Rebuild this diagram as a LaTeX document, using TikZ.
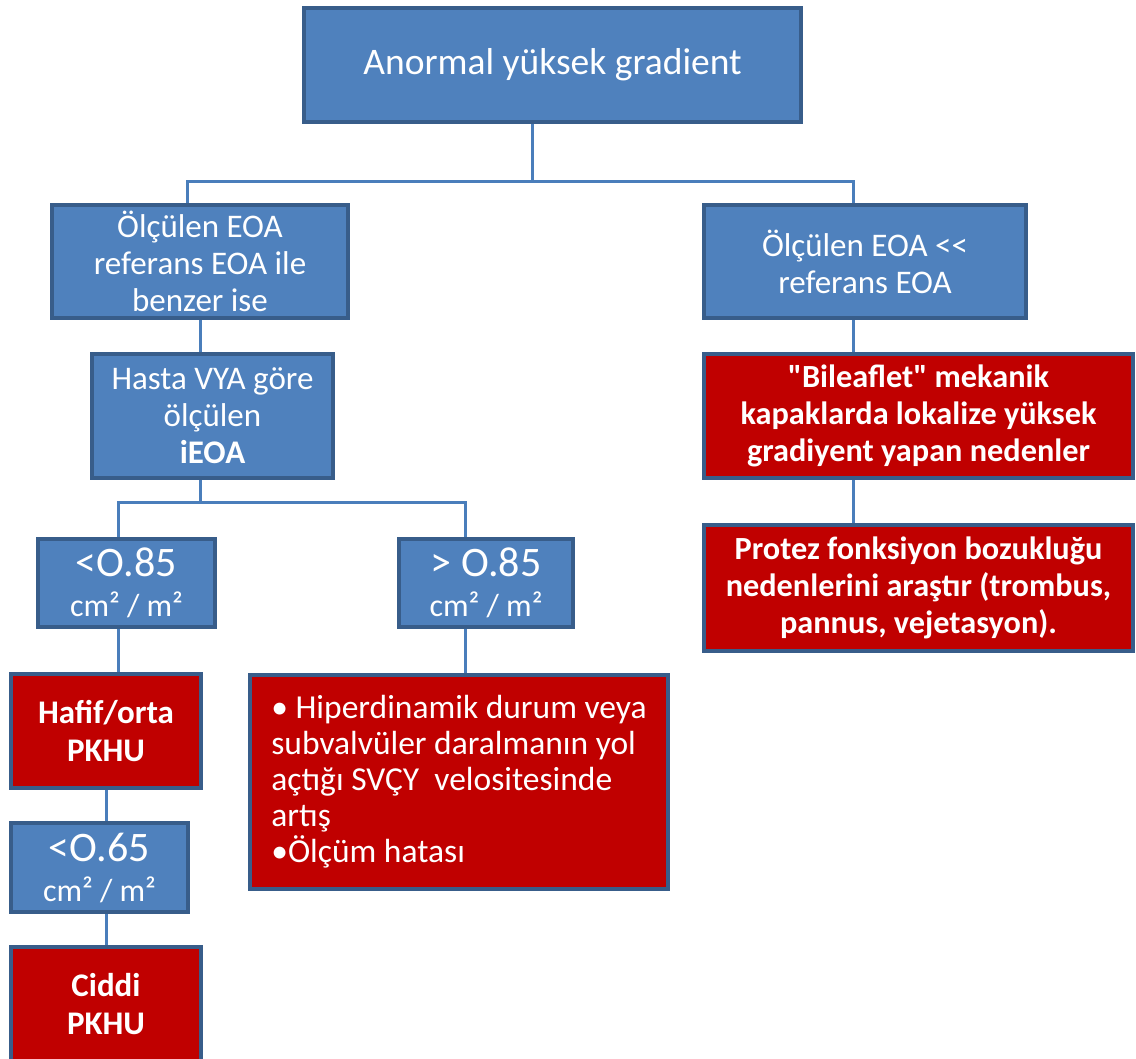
\documentclass[tikz,border=0pt]{standalone}
\usepackage{fontspec}
\setmainfont{Carlito}[Ligatures=TeXOff]
\definecolor{bfill}{HTML}{4F81BD}
\definecolor{bline}{HTML}{385D8A}
\definecolor{rfill}{HTML}{C00000}
\definecolor{conncol}{HTML}{4A7EBB}
\begin{document}
\begin{tikzpicture}[x=1pt,y=-1pt,
  bluebox/.style={draw=bline, line width=4pt, fill=bfill, text=white, align=center, inner sep=0pt,
    font=\fontsize{33}{37}\selectfont},
  redbox/.style={bluebox, fill=rfill},
  conn/.style={draw=conncol, line width=3pt}]
\useasboundingbox (0,0) rectangle (1136,1059);
\fill[white] (0,0) rectangle (1136,1059);

% nodes
\node[bluebox, minimum width=497pt, minimum height=114pt, font=\fontsize{37.5}{40}\selectfont] (top) at (552.5,65) {Anormal yüksek gradient};
\node[bluebox, minimum width=296pt, minimum height=113pt] (A) at (200,261.5) {Ölçülen EOA\\referans EOA ile\\benzer ise};
\node[bluebox, minimum width=322pt, minimum height=113pt] (B) at (865,261.5) {Ölçülen EOA <\kern0pt<\\referans EOA};
\node[bluebox, minimum width=241pt, minimum height=124pt] (C) at (212.5,416) {Hasta VYA göre\\ölçülen\\\textbf{iEOA}};
\node[redbox, minimum width=429pt, minimum height=124pt, font=\fontsize{32.3}{37}\selectfont\bfseries] (F) at (918.5,416) {"Bileaflet" mekanik\\kapaklarda lokalize yüksek\\gradiyent yapan nedenler};
\node[redbox, minimum width=429pt, minimum height=126pt, font=\fontsize{32.3}{37}\selectfont\bfseries] (G) at (918.5,588) {Protez fonksiyon bozukluğu\\nedenlerini araştır (trombus,\\pannus, vejetasyon).};
\node[bluebox, minimum width=177pt, minimum height=88pt, font=\fontsize{32}{40}\selectfont] (D) at (126.5,583) {{\fontsize{42}{42}\selectfont <O.85}\\cm² / m²};
\node[bluebox, minimum width=174pt, minimum height=88pt, font=\fontsize{32}{40}\selectfont] (E) at (486,583) {{\fontsize{42}{42}\selectfont > O.85}\\cm² / m²};
\node[redbox, minimum width=418pt, minimum height=214pt, align=left, font=\fontsize{33.5}{36}\selectfont] (K) at (459,782) {• Hiperdinamik durum veya\\subvalvüler daralmanın yol\\açtığı SVÇY\ \ velositesinde\\artış\\•Ölçüm hatası};
\node[redbox, minimum width=190pt, minimum height=114pt, font=\fontsize{33}{38}\selectfont\bfseries] (H) at (106,731) {Hafif/orta\\PKHU};
\node[bluebox, minimum width=177pt, minimum height=89pt, font=\fontsize{32}{40}\selectfont] (I) at (99.5,867.5) {{\fontsize{42}{42}\selectfont <O.65}\\cm² / m²};
\node[redbox, minimum width=190pt, minimum height=114pt, font=\fontsize{33}{38}\selectfont\bfseries] (J) at (106,1004) {Ciddi\\PKHU};

% connectors
\coordinate (busL) at (187,182);
\coordinate (busR) at (853,182);
\coordinate (bus2L) at (118,502);
\coordinate (bus2R) at (465,502);
\draw[conn] ([xshift=-20.5pt]top.south) -- ([xshift=-20.5pt]top.south |- busL);
\draw[conn] (busL |- A.north) -- (busL) -- (busR) -- (busR |- B.north);
\draw[conn] (A.south) -- (A.south |- C.north);
\draw[conn] ([xshift=-12.5pt]C.south) -- ([xshift=-12.5pt]C.south |- bus2L);
\draw[conn] (bus2L |- D.north) -- (bus2L) -- (bus2R) -- (bus2R |- E.north);
\draw[conn] (bus2L |- D.south) -- (bus2L |- H.north);
\draw[conn] (bus2R |- E.south) -- (bus2R |- K.north);
\draw[conn] (H.south) -- (H.south |- I.north);
\draw[conn] (H.south |- I.south) -- (H.south |- J.north);
\draw[conn] (busR |- B.south) -- (busR |- F.north);
\draw[conn] (busR |- F.south) -- (busR |- G.north);
\end{tikzpicture}
\end{document}
